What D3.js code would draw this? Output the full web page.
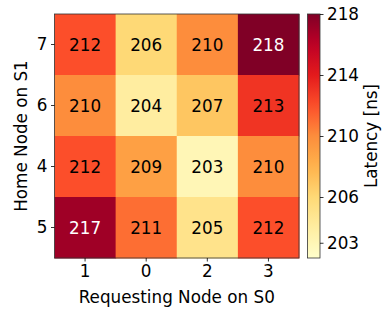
<!DOCTYPE html>
<html><head><meta charset="utf-8">
<script src="https://cdn.jsdelivr.net/npm/d3@7"></script>
<style>body{margin:0;background:#fff}svg{display:block}text{font-family:"DejaVu Sans",sans-serif}</style>
</head><body><svg id="c" width="383" height="314"></svg>
<script>
const cols = ["1","0","2","3"];
const rows = ["7","6","4","5"];
const values = [
  [212,206,210,218],
  [210,204,207,213],
  [212,209,203,210],
  [217,211,205,212]
];
const cbTicks = [203,206,210,214,218];
const cbDomain = [202,218];
const xTitle = "Requesting Node on S0";
const yTitle = "Home Node on S1";
const cbTitle = "Latency [ns]";
const ylorrd = ["#ffffcc","#ffeda0","#fed976","#feb24c","#fd8d3c","#fc4e2a","#e31a1c","#bd0026","#800026"];

const svg = d3.select("#c");
const L=54.5, T=14, W=244.5, H=244;
const fs = 16.8;
const x = d3.scaleBand().domain(cols).range([L, L+W]);
const y = d3.scaleBand().domain(rows).range([T, T+H]);
const interp = d3.piecewise(d3.interpolateRgb, ylorrd);
const norm = d3.scaleLinear().domain(cbDomain).range([0,1]).clamp(true);
const color = v => interp(norm(v));

const cells = [];
rows.forEach((r,i)=>cols.forEach((c,j)=>cells.push({r,c,v:values[i][j]})));
svg.append("g").selectAll("rect").data(cells).join("rect")
  .attr("x",d=>x(d.c)).attr("y",d=>y(d.r))
  .attr("width",x.bandwidth()+0.5).attr("height",y.bandwidth()+0.5)
  .attr("fill",d=>color(d.v));
svg.append("g").selectAll("text").data(cells).join("text")
  .attr("x",d=>x(d.c)+x.bandwidth()/2).attr("y",d=>y(d.r)+y.bandwidth()/2)
  .attr("dy","0.36em").attr("text-anchor","middle").attr("font-size",fs)
  .attr("fill",d=>norm(d.v)>0.8?"#fff":"#000").text(d=>d.v);
svg.append("rect").attr("x",L).attr("y",T).attr("width",W).attr("height",H)
  .attr("fill","none").attr("stroke","#333").attr("stroke-width",0.8);

const xa = svg.append("g").attr("transform",`translate(0,${T+H})`)
  .call(d3.axisBottom(x).tickSize(3.5).tickPadding(3.5));
const ya = svg.append("g").attr("transform",`translate(${L},0)`)
  .call(d3.axisLeft(y).tickSize(3.5).tickPadding(3.5));
[xa,ya].forEach(a=>{a.select(".domain").remove();a.selectAll("text").attr("font-size",fs).attr("fill","#000").style("font-family","DejaVu Sans");a.selectAll("line").attr("stroke","#000").attr("stroke-width",0.8);});

svg.append("text").attr("x",L+W/2).attr("y",303).attr("text-anchor","middle")
  .attr("font-size",fs).text(xTitle);
svg.append("text").attr("transform",`translate(27,${T+H/2}) rotate(-90)`).attr("text-anchor","middle")
  .attr("font-size",fs).text(yTitle);

// colorbar
const CX=307.5, CW=12.5;
const cy = d3.scaleLinear().domain(cbDomain).range([T+H, T]);
const defs = svg.append("defs");
const grad = defs.append("linearGradient").attr("id","g").attr("x1",0).attr("y1",1).attr("x2",0).attr("y2",0);
d3.range(0,1.0001,0.05).forEach(t=>grad.append("stop").attr("offset",t).attr("stop-color",interp(t)));
svg.append("rect").attr("x",CX).attr("y",T).attr("width",CW).attr("height",H).attr("fill","url(#g)")
  .attr("stroke","#333").attr("stroke-width",0.8);
const ca = svg.append("g").attr("transform",`translate(${CX+CW},0)`)
  .call(d3.axisRight(cy).tickValues(cbTicks).tickSize(3.5).tickPadding(3.5));
ca.select(".domain").remove();
ca.selectAll("text").attr("font-size",fs).attr("fill","#000").style("font-family","DejaVu Sans");
ca.selectAll("line").attr("stroke","#000").attr("stroke-width",0.8);
svg.append("text").attr("transform",`translate(371,${T+H/2}) rotate(-90)`).attr("text-anchor","middle")
  .attr("dy","0.36em").attr("font-size",fs).text(cbTitle);
</script></body></html>
